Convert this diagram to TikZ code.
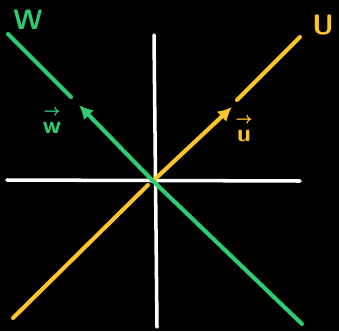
\documentclass[tikz,border=0pt]{standalone}
\usetikzlibrary{arrows.meta}
\definecolor{wgreen}{RGB}{46,204,113}
\definecolor{uyellow}{RGB}{255,196,40}
\newcommand{\vecletter}[1]{\ooalign{#1\cr\hidewidth\raisebox{0.75em}{\fontsize{13}{13}\selectfont\textrightarrow}\hidewidth\cr}}
\begin{document}
\begin{tikzpicture}[x=0.03cm,y=-0.03cm,
    axis/.style={white,line width=3pt,line cap=round},
    wline/.style={wgreen,line width=3.5pt,line cap=round},
    uline/.style={uyellow,line width=3.5pt,line cap=round},
    arrow/.style={-{Latex[length=12pt,width=12pt]}},
    lbl/.style={font=\sffamily\bfseries\fontsize{24}{28}\selectfont},
    vlbl/.style={font=\sffamily\bfseries\fontsize{21}{24}\selectfont},
    ]
    \fill[black] (0,0) rectangle (339,331);
    % axes
    \coordinate (O) at (153,181);
    \coordinate (xl) at (7,180);   \coordinate (xr) at (300,181);
    \coordinate (yt) at (154,35);  \coordinate (yb) at (157,327);
    \draw[axis] (xl) -- (xr);
    \draw[axis] (yt) -- (yb);
    % line U
    \coordinate (ubot) at (13,318);  \coordinate (uhead) at (232,107);
    \coordinate (ugap) at (237,100); \coordinate (utop) at (300,37);
    \draw[uline] (ubot) -- (148,185);
    \draw[uline,arrow] (O) -- (uhead);
    \draw[uline] (ugap) -- (utop);
    % line W
    \coordinate (wtop) at (8,34);   \coordinate (wgap) at (71,97);
    \coordinate (whead) at (79,105); \coordinate (wbot) at (302,324);
    \draw[wline] (wtop) -- (wgap);
    \draw[wline,arrow] (wbot) -- (O) -- (whead);
    % labels
    \node[lbl,text=wgreen] (wname) at (28,20) {W};
    \node[lbl,text=uyellow] (uname) at (323,25) {U};
    \node[vlbl,text=wgreen] (wvec) at (52,128) {\vecletter{w}};
    \node[vlbl,text=uyellow] (uvec) at (244,136) {\vecletter{u}};
\end{tikzpicture}
\end{document}
